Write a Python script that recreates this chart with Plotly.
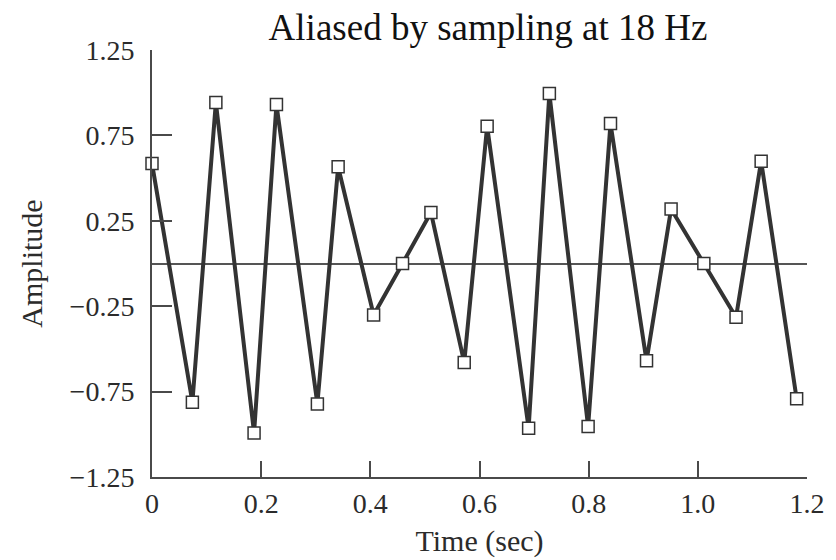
import plotly.graph_objects as go

# Sample times (sec) and amplitudes
time_sec = [0.0, 0.074, 0.117, 0.187, 0.228, 0.303, 0.341, 0.406, 0.459, 0.511, 0.572,
            0.614, 0.690, 0.728, 0.799, 0.840, 0.906, 0.951, 1.011, 1.070, 1.116, 1.181]
amplitude = [0.586, -0.812, 0.943, -0.993, 0.931, -0.822, 0.566, -0.301, 0.0, 0.299, -0.580,
             0.804, -0.964, 0.995, -0.954, 0.820, -0.570, 0.319, 0.0, -0.315, 0.599, -0.792]

x_ticks = [0, 0.2, 0.4, 0.6, 0.8, 1.0, 1.2]
x_labels = ["0", "0.2", "0.4", "0.6", "0.8", "1.0", "1.2"]
y_ticks = [-1.25, -0.75, -0.25, 0.25, 0.75, 1.25]
y_labels = ["\u22121.25", "\u22120.75", "\u22120.25", "0.25", "0.75", "1.25"]

FONT = "Liberation Serif"
INK = "#2b2b2b"
AX = "#4a4a4a"

fig = go.Figure()
fig.add_trace(go.Scatter(
    x=time_sec, y=amplitude, mode="lines+markers",
    line=dict(color="#333333", width=4),
    marker=dict(symbol="square", size=12, color="white",
                line=dict(color="#333333", width=1.5)),
    cliponaxis=False, showlegend=False,
))

fig.update_layout(
    width=836, height=560,
    margin=dict(l=152, r=29, t=50, b=83),
    paper_bgcolor="white", plot_bgcolor="white",
    font=dict(family=FONT, color=INK),
    title=dict(text="Aliased by sampling at 18 Hz", font=dict(family=FONT, size=37, color="#111"),
               x=0.513, xref="paper", xanchor="center",
               y=1 - 27 / 560, yref="container", yanchor="middle"),
)
fig.update_xaxes(
    range=[0, 1.2], tickvals=x_ticks, ticktext=x_labels, automargin=False,
    ticks="inside", ticklen=16, tickwidth=1.5, tickcolor=AX,
    showline=True, linecolor=AX, linewidth=2, showgrid=False, zeroline=False,
    tickfont=dict(family=FONT, size=28, color=INK),
    title=dict(text="Time (sec)", font=dict(family=FONT, size=30, color=INK), standoff=12),
)
fig.update_yaxes(
    range=[-1.25, 1.25], tickvals=y_ticks, ticktext=y_labels, automargin=False,
    ticks="inside", ticklen=20, tickwidth=1.5, tickcolor=AX,
    showline=True, linecolor=AX, linewidth=2, showgrid=False,
    zeroline=True, zerolinecolor="#555555", zerolinewidth=1.5,
    tickfont=dict(family=FONT, size=28, color=INK), ticklabelstandoff=10,
    title=dict(text="Amplitude", font=dict(family=FONT, size=30, color=INK), standoff=18),
)

fig.write_html("out.html")
